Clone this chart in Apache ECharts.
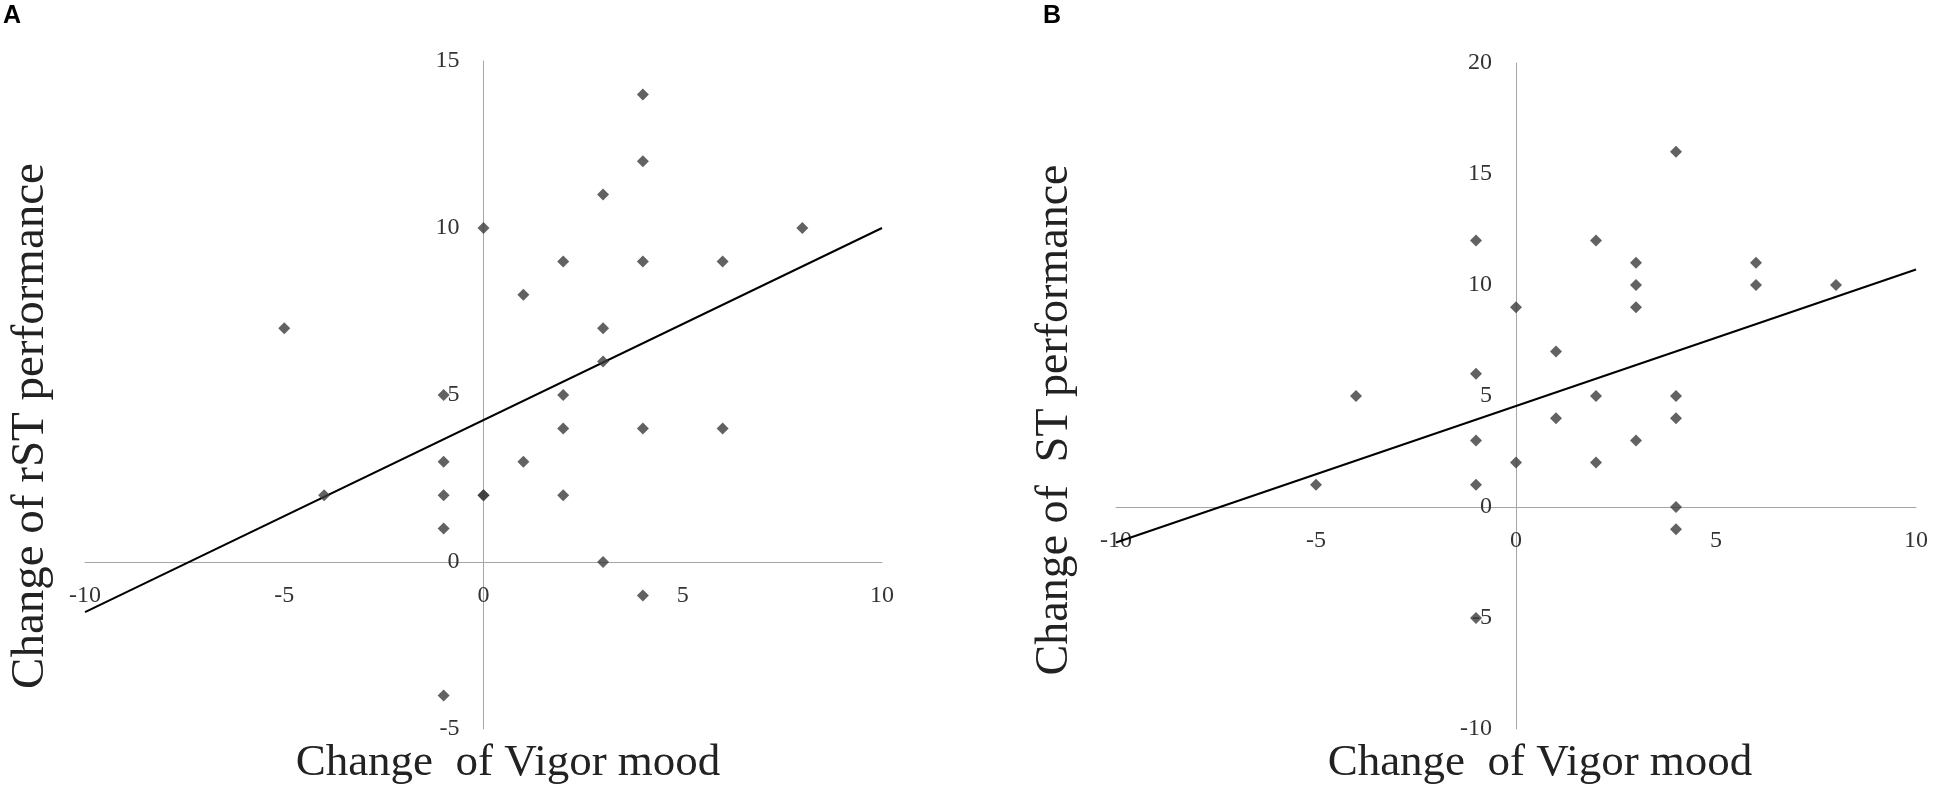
<!DOCTYPE html>
<html>
<head>
<meta charset="utf-8">
<title>Vigor mood vs rST / ST performance</title>
<script src="https://cdn.jsdelivr.net/npm/echarts@6/dist/echarts.min.js"></script>
<style>
html, body { margin: 0; padding: 0; background: #fff; }
#chart { width: 1950px; height: 798px; }
</style>
</head>
<body>
<div id="chart"></div>
<script>
// panel A: change of vigor mood (x) vs change of rST performance (y)
var vigorA = [4, 4, 3, 0, 8, 2, 4, 6, 1, -5, 3, 3, 2, -1, 2, 4, 6, -1, 1, -4, -1, 0, 0, 2, -1, 3, 4, -1];
var rstA   = [14, 12, 11, 10, 10, 9, 9, 9, 8, 7, 7, 6, 5, 5, 4, 4, 4, 3, 3, 2, 2, 2, 2, 2, 1, 0, -1, -4];
// panel B: change of vigor mood (x) vs change of ST performance (y)
var vigorB = [-1, 0, 1, -1, -4, 1, -1, 0, -5, -1, -1, 4, 2, 3, 6, 3, 6, 8, 3, 2, 4, 4, 3, 2, 4, 4];
var stB    = [12, 9, 7, 6, 5, 4, 3, 2, 1, 1, -5, 16, 12, 11, 11, 10, 10, 10, 9, 5, 5, 4, 3, 2, 0, -1];
// trend lines, ends
var trendX  = [-10, 10];
var trendAy = [-1.5, 10.0];
var trendBy = [-1.6, 10.7];
// axis ranges
var xRange  = [-10, 10];
var yRangeA = [-5, 15];
var yRangeB = [-10, 20];

function pairs(xs, ys) {
    var out = [];
    for (var i = 0; i < xs.length; i++) {
        out.push([xs[i], ys[i]]);
    }
    return out;
}

var serif = '"Liberation Serif", "DejaVu Serif", serif';
var lineGray = '#a6a6a6';

function xAxisOf(idx) {
    return {
        type: 'value', gridIndex: idx, min: xRange[0], max: xRange[1], interval: 5,
        position: 'bottom', offset: 0,
        axisLine: { onZero: false, lineStyle: { color: lineGray, width: 1 } },
        axisTick: { show: false },
        splitLine: { show: false },
        axisLabel: { margin: 22, color: '#333', fontFamily: serif, fontSize: 24 }
    };
}
function yAxisOf(idx, range) {
    return {
        type: 'value', gridIndex: idx, min: range[0], max: range[1], interval: 5,
        position: 'left', offset: 0,
        axisLine: { onZero: false, lineStyle: { color: lineGray, width: 1 } },
        axisTick: { show: false },
        splitLine: { show: false },
        axisLabel: { margin: 24, color: '#333', fontFamily: serif, fontSize: 24 }
    };
}

var chart = echarts.init(document.getElementById('chart'));
var option = {
    backgroundColor: '#fff',
    animation: false,
    grid: [
        { left: 85, top: 61, width: 797, height: 668 },
        { left: 1116, top: 63, width: 800, height: 666 }
    ],
    xAxis: [xAxisOf(0), xAxisOf(1)],
    yAxis: [yAxisOf(0, yRangeA), yAxisOf(1, yRangeB)],
    series: [
        {
            type: 'line', xAxisIndex: 0, yAxisIndex: 0,
            data: pairs(trendX, trendAy), symbol: 'none', z: 2,
            lineStyle: { color: '#000', width: 2 }
        },
        {
            type: 'scatter', xAxisIndex: 0, yAxisIndex: 0,
            data: pairs(vigorA, rstA), symbol: 'diamond', symbolSize: 12, z: 3,
            itemStyle: { color: '#3b3b3b' }
        },
        {
            type: 'line', xAxisIndex: 1, yAxisIndex: 1,
            data: pairs(trendX, trendBy), symbol: 'none', z: 2,
            lineStyle: { color: '#000', width: 2 }
        },
        {
            type: 'scatter', xAxisIndex: 1, yAxisIndex: 1,
            data: pairs(vigorB, stB), symbol: 'diamond', symbolSize: 12, z: 3,
            itemStyle: { color: '#3b3b3b' }
        }
    ],
    graphic: [
        { type: 'text', left: 3, top: 4, style: { text: 'A', fill: '#000', font: 'bold 25px "Liberation Sans", Arial, sans-serif' } },
        { type: 'text', left: 1043, top: 4, style: { text: 'B', fill: '#000', font: 'bold 25px "Liberation Sans", Arial, sans-serif' } },
        // axis titles
        { type: 'text', x: 508, y: 763, style: { text: 'Change  of Vigor mood', fill: '#222', font: '45px ' + serif, align: 'center', verticalAlign: 'middle' } },
        { type: 'text', x: 1540, y: 763, style: { text: 'Change  of Vigor mood', fill: '#222', font: '45px ' + serif, align: 'center', verticalAlign: 'middle' } },
        { type: 'text', x: 31, y: 426, rotation: Math.PI / 2, style: { text: 'Change of rST performance', fill: '#222', font: '47px ' + serif, align: 'center', verticalAlign: 'middle' } },
        { type: 'text', x: 1055, y: 420, rotation: Math.PI / 2, style: { text: 'Change of  ST performance', fill: '#222', font: '46px ' + serif, align: 'center', verticalAlign: 'middle' } }
    ]
};
chart.setOption(option);

// Excel style: axes cross at the origin, labels go along with the lines
var yRanges = [yRangeA, yRangeB];
var xOff = [], yOff = [];
for (var g = 0; g < 2; g++) {
    var origin = chart.convertToPixel({ gridIndex: g }, [0, 0]);
    var corner = chart.convertToPixel({ gridIndex: g }, [xRange[0], yRanges[g][0]]);
    xOff.push({ offset: -(corner[1] - origin[1]) });
    yOff.push({ offset: -(origin[0] - corner[0]) });
}
chart.setOption({ xAxis: xOff, yAxis: yOff });
</script>
</body>
</html>
